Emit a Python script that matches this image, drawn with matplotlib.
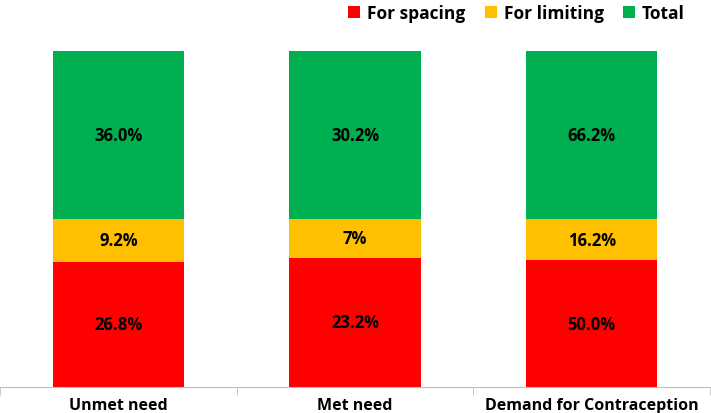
import numpy as np
import matplotlib.pyplot as plt

categories = ["Unmet need", "Met need", "Demand for Contraception"]
spacing = [26.8, 23.2, 50.0]
limiting = [9.2, 7.0, 16.2]
total = [36.0, 30.2, 66.2]
spacing_lbl = ["26.8%", "23.2%", "50.0%"]
limiting_lbl = ["9.2%", "7%", "16.2%"]
total_lbl = ["36.0%", "30.2%", "66.2%"]

plt.rcParams['font.family'] = ['Open Sans', 'DejaVu Sans']

sp = np.array(spacing)
li = np.array(limiting)
to = np.array(total)
s = sp + li + to
sp_n, li_n, to_n = sp / s, li / s, to / s

fig = plt.figure(figsize=(7.11, 4.14), dpi=100)
ax = fig.add_axes([0, 26 / 414, 710 / 711, 336 / 414])
x = np.arange(len(categories))
w = 0.555

b1 = ax.bar(x, sp_n, w, color="#FF0000", label="For spacing")
b2 = ax.bar(x, li_n, w, bottom=sp_n, color="#FFC000", label="For limiting")
b3 = ax.bar(x, to_n, w, bottom=sp_n + li_n, color="#00B050", label="Total")

for bars, lbls in [(b1, spacing_lbl), (b2, limiting_lbl), (b3, total_lbl)]:
    ax.bar_label(bars, labels=lbls, label_type="center",
                 fontsize=12, fontweight="bold", color="black")

ax.set_xlim(-0.5, 2.5)
ax.set_ylim(0, 1)
ax.set_xticks(x)
ax.set_xticklabels(categories, fontsize=11.5, fontweight="bold")
ax.tick_params(axis="x", which="major", length=0, pad=7)
ax.set_xticks([-0.5, 0.5, 1.5, 2.5], minor=True)
ax.tick_params(axis="x", which="minor", length=6, color="#bfbfbf")
ax.set_yticks([])
for side in ["top", "right", "left"]:
    ax.spines[side].set_visible(False)
ax.spines["bottom"].set_color("#bfbfbf")

fig.legend(handles=[b1, b2, b3], loc="upper right", ncol=3,
           bbox_to_anchor=(0.985, 1.025), frameon=False,
           prop={"size": 12.5, "weight": "bold"},
           handlelength=0.7, handleheight=0.7, handletextpad=0.4,
           columnspacing=1.1)

fig.savefig("out.png", dpi=100)
